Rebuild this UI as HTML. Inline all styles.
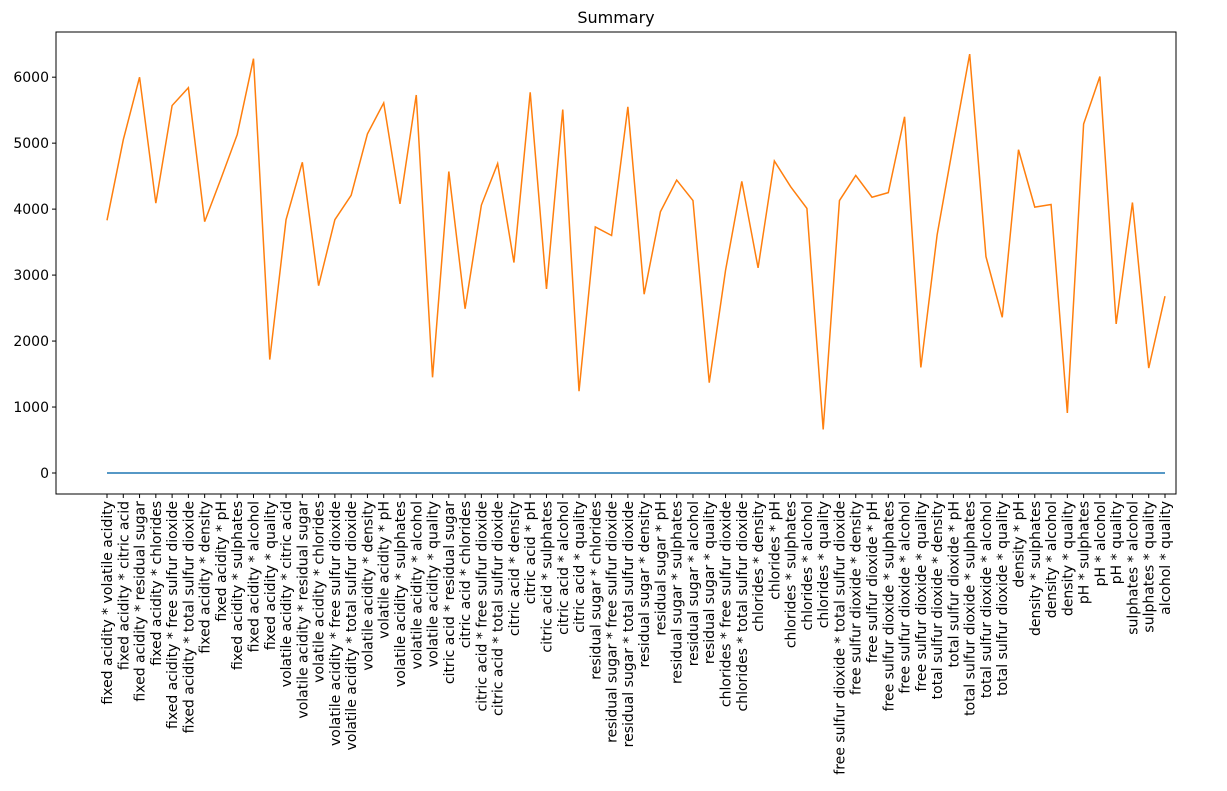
<!DOCTYPE html>
<html><head><meta charset="utf-8"><style>body{margin:0;background:#fff}svg{font-family:"DejaVu Sans","Liberation Sans",sans-serif}</style></head>
<body>
<svg id="chart" width="1227" height="786" xmlns="http://www.w3.org/2000/svg"></svg>
<script>
const categories=["fixed acidity * volatile acidity","fixed acidity * citric acid","fixed acidity * residual sugar","fixed acidity * chlorides","fixed acidity * free sulfur dioxide","fixed acidity * total sulfur dioxide","fixed acidity * density","fixed acidity * pH","fixed acidity * sulphates","fixed acidity * alcohol","fixed acidity * quality","volatile acidity * citric acid","volatile acidity * residual sugar","volatile acidity * chlorides","volatile acidity * free sulfur dioxide","volatile acidity * total sulfur dioxide","volatile acidity * density","volatile acidity * pH","volatile acidity * sulphates","volatile acidity * alcohol","volatile acidity * quality","citric acid * residual sugar","citric acid * chlorides","citric acid * free sulfur dioxide","citric acid * total sulfur dioxide","citric acid * density","citric acid * pH","citric acid * sulphates","citric acid * alcohol","citric acid * quality","residual sugar * chlorides","residual sugar * free sulfur dioxide","residual sugar * total sulfur dioxide","residual sugar * density","residual sugar * pH","residual sugar * sulphates","residual sugar * alcohol","residual sugar * quality","chlorides * free sulfur dioxide","chlorides * total sulfur dioxide","chlorides * density","chlorides * pH","chlorides * sulphates","chlorides * alcohol","chlorides * quality","free sulfur dioxide * total sulfur dioxide","free sulfur dioxide * density","free sulfur dioxide * pH","free sulfur dioxide * sulphates","free sulfur dioxide * alcohol","free sulfur dioxide * quality","total sulfur dioxide * density","total sulfur dioxide * pH","total sulfur dioxide * sulphates","total sulfur dioxide * alcohol","total sulfur dioxide * quality","density * pH","density * sulphates","density * alcohol","density * quality","pH * sulphates","pH * alcohol","pH * quality","sulphates * alcohol","sulphates * quality","alcohol * quality"];
const seriesOrange=[3830,5050,6000,4090,5570,5840,3810,4460,5130,6280,1720,3840,4710,2840,3840,4210,5140,5610,4080,5730,1450,4570,2490,4060,4690,3190,5770,2790,5510,1240,3730,3600,5550,2710,3960,4440,4130,1370,3070,4420,3110,4730,4340,4010,660,4130,4510,4180,4250,5400,1600,3610,4990,6350,3280,2360,4900,4030,4070,910,5290,6010,2260,4100,1590,2680];
const seriesBlue=categories.map(()=>0);
const yTicks=[0,1000,2000,3000,4000,5000,6000];
const NS="http://www.w3.org/2000/svg";
const svg=document.getElementById('chart');
const L=56,R=1176,T=32,B=494;
const x=i=>107+i*(1165-107)/(categories.length-1);
const y=v=>473-v*0.06597;
function mk(t,a,p){const e=document.createElementNS(NS,t);for(const k in a)e.setAttribute(k,a[k]);(p||svg).appendChild(e);return e;}
const title=mk('text',{x:(L+R)/2,y:23,'text-anchor':'middle','font-size':16});title.textContent='Summary';


yTicks.forEach(v=>{
 const tk=mk('line',{x1:L-4,x2:L,y1:y(v),y2:y(v),stroke:'#000'});
 
 
 const lb=mk('text',{x:L-7,y:y(v)+5,'text-anchor':'end','font-size':14});lb.textContent=v;
 
 
});
categories.forEach((c,i)=>{
 const tk=mk('line',{x1:x(i),x2:x(i),y1:B,y2:B+4,stroke:'#000'});
 
 
 const lb=mk('text',{x:0,y:0,'text-anchor':'end','font-size':14,transform:`translate(${x(i)+5},${B+7}) rotate(-90)`});lb.textContent=c;
 
 
});
const pb=mk('polyline',{points:seriesBlue.map((v,i)=>x(i)+','+y(v)).join(' '),fill:'none',stroke:'#1f77b4','stroke-width':1.5});


const po=mk('polyline',{points:seriesOrange.map((v,i)=>x(i)+','+y(v)).join(' '),fill:'none',stroke:'#ff7f0e','stroke-width':1.5});


const fr=mk('rect',{x:L,y:T,width:R-L,height:B-T,fill:'none',stroke:'#000','stroke-width':1});


</script>
</body></html>
